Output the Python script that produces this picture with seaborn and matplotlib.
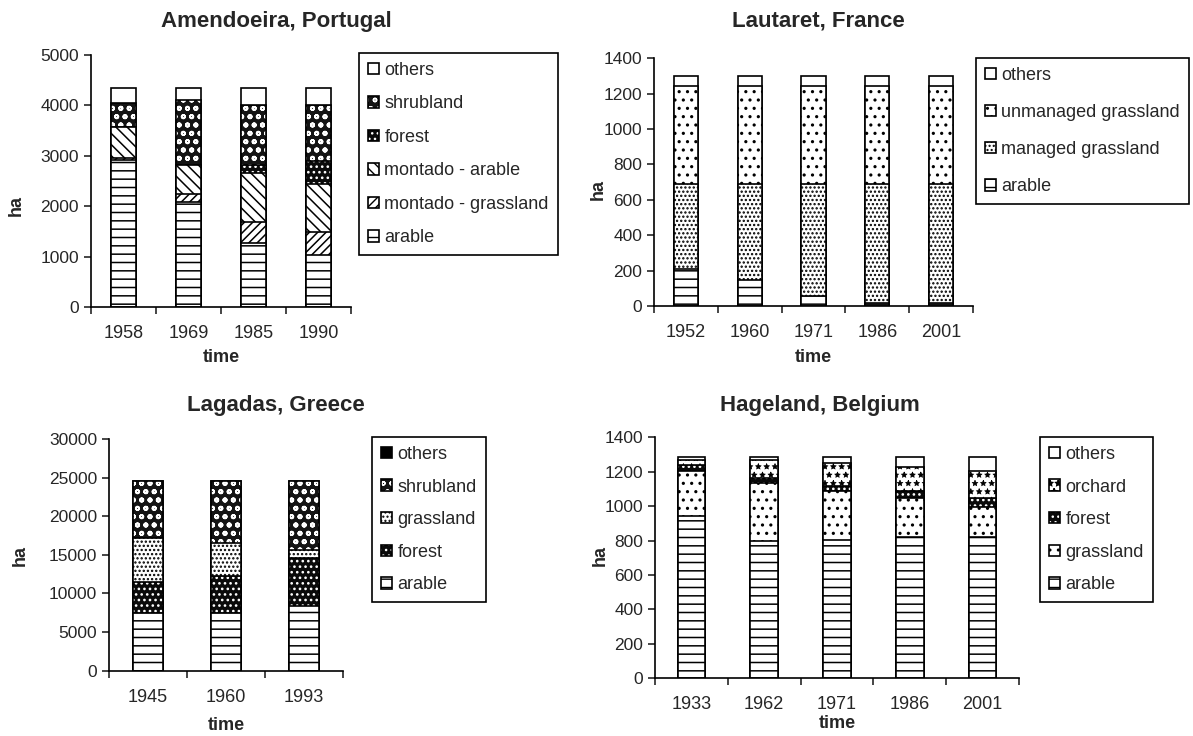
import numpy as np
import matplotlib
matplotlib.use("Agg")
import matplotlib.pyplot as plt
from matplotlib.patches import Rectangle
import seaborn as sns

# ---- land use data (ha) ----
amend_years = ["1958", "1969", "1985", "1990"]
amend_arable = [2920, 2080, 1270, 1030]
amend_montado_grass = [30, 170, 420, 450]
amend_montado_arable = [630, 560, 970, 970]
amend_forest = [0, 0, 150, 450]
amend_shrub = [460, 1300, 1200, 1110]
amend_others = [310, 240, 340, 340]

laut_years = ["1952", "1960", "1971", "1986", "2001"]
laut_arable = [210, 145, 55, 15, 15]
laut_managed = [480, 545, 635, 675, 675]
laut_unmanaged = [555, 555, 555, 555, 555]
laut_others = [55, 55, 55, 55, 55]

laga_years = ["1945", "1960", "1993"]
laga_arable = [7500, 7500, 8350]
laga_forest = [4000, 4750, 6300]
laga_grass = [5650, 4250, 1000]
laga_shrub = [7350, 8000, 8850]
laga_others = [100, 100, 100]

hage_years = ["1933", "1962", "1971", "1986", "2001"]
hage_arable = [940, 795, 805, 820, 820]
hage_grass = [265, 340, 285, 225, 175]
hage_forest = [35, 30, 30, 45, 50]
hage_orchard = [30, 105, 130, 140, 160]
hage_others = [15, 15, 35, 55, 80]

sns.set_theme(style="ticks")
plt.rcParams["font.family"] = ["Liberation Sans", "DejaVu Sans"]

W, H = 1193, 736
fig = plt.figure(figsize=(W / 100, H / 100), dpi=100)

# fill styles: (face colour, hatch, hatch colour, hatch line width)
S_WHITE = ("white", None, "white", 1.1)
S_LINES = ("white", "--", "black", 1.1)
S_BACK = ("white", "\\\\\\", "black", 1.1)
S_FWD = ("white", "////", "black", 1.1)
S_SHRUB = ("#141414", "oo", "white", 1.3)
S_FOREST = ("#0a0a0a", "...", "white", 1.1)
S_DENSE = ("white", "....", "black", 1.1)
S_SPARSE = ("white", "..", "black", 1.1)
S_ORCH = ("white", "**", "black", 0.5)
S_BLACK = ("black", None, "black", 1.1)


def frac(px_left, px_top, px_w, px_h):
    return [px_left / W, 1 - (px_top + px_h) / H, px_w / W, px_h / H]


def panel(rect, years, layers, names, styles, ymax, ystep, title, title_xy,
          legend_xy, spacing, ha_xy, time_y):
    ax = fig.add_axes(frac(*rect))
    cum = np.cumsum(np.array(layers, dtype=float), axis=0)
    # draw cumulative totals from the top layer down so each lower layer covers the one above
    for i in range(len(layers) - 1, -1, -1):
        face, hatch, hcol, hlw = styles[i]
        with plt.rc_context({"hatch.linewidth": hlw}):
            sns.barplot(x=years, y=cum[i], order=years, color=face, saturation=1,
                        edgecolor=hcol, linewidth=0, width=0.38,
                        errorbar=None, hatch=hatch, ax=ax)
        sns.barplot(x=years, y=cum[i], order=years, color="black", fill=False,
                    linewidth=1.2, width=0.38, errorbar=None, ax=ax)
    n = len(years)
    ax.set_xlim(-0.5, n - 0.5)
    ax.set_xticks(np.arange(n + 1) - 0.5, labels=[""] * (n + 1))
    ax.set_xticks(np.arange(n), labels=years, minor=True)
    ax.tick_params(axis="x", which="minor", length=0, labelsize=13, pad=13)
    ax.tick_params(axis="x", which="major", length=5, width=1.2, direction="out")
    ax.set_ylim(0, ymax)
    ax.set_yticks(np.arange(0, ymax + 1, ystep))
    ax.tick_params(axis="y", length=5, width=1.2, direction="out", labelsize=12.5, pad=3.5)
    for side in ("top", "right"):
        ax.spines[side].set_visible(False)
    for side in ("left", "bottom"):
        ax.spines[side].set_linewidth(1.2)
        ax.spines[side].set_color("black")
    ax.set_xlabel("")
    ax.set_ylabel("")
    ax.grid(False)
    fig.text(title_xy[0] / W, 1 - title_xy[1] / H, title, fontsize=16,
             fontweight="bold", ha="center", va="center")
    fig.text(ha_xy[0] / W, 1 - ha_xy[1] / H, "ha", fontsize=13,
             fontweight="bold", rotation=90, ha="center", va="center")
    cx = rect[0] + rect[2] / 2
    fig.text(cx / W, 1 - time_y / H, "time", fontsize=13,
             fontweight="bold", ha="center", va="center")

    handles = []
    for i in range(len(layers) - 1, -1, -1):
        face, hatch, hcol, hlw = styles[i]
        with plt.rc_context({"hatch.linewidth": hlw}):
            fill = Rectangle((0, 0), 1, 1, facecolor=face, edgecolor=hcol,
                             linewidth=0, hatch=hatch)
        edge = Rectangle((0, 0), 1, 1, facecolor="none", edgecolor="black",
                         linewidth=1.2)
        handles.append((fill, edge))
    leg = fig.legend(handles, names[::-1], loc="upper left",
                     bbox_to_anchor=(legend_xy[0] / W, 1 - legend_xy[1] / H),
                     frameon=True, fancybox=False, framealpha=1,
                     edgecolor="black", fontsize=13, handlelength=0.6,
                     handleheight=0.6, handletextpad=0.3, labelspacing=spacing,
                     borderpad=0.5, borderaxespad=0)
    leg.get_frame().set_linewidth(1.2)
    return ax


panel((90.7, 55, 260.3, 252), amend_years,
      [amend_arable, amend_montado_grass, amend_montado_arable, amend_forest,
       amend_shrub, amend_others],
      ["arable", "montado - grassland", "montado - arable", "forest",
       "shrubland", "others"],
      [S_LINES, S_FWD, S_BACK, S_FOREST, S_SHRUB, S_WHITE],
      5000, 1000, "Amendoeira, Portugal", (276, 21), (359, 53), 0.91,
      (16, 205), 358)

panel((654, 58.3, 319, 247.7), laut_years,
      [laut_arable, laut_managed, laut_unmanaged, laut_others],
      ["arable", "managed grassland", "unmanaged grassland", "others"],
      [S_LINES, S_DENSE, S_SPARSE, S_WHITE],
      1400, 200, "Lautaret, France", (818, 21), (976, 58), 1.11,
      (598, 190), 357)

panel((109, 439, 234, 231.7), laga_years,
      [laga_arable, laga_forest, laga_grass, laga_shrub, laga_others],
      ["arable", "forest", "grassland", "shrubland", "others"],
      [S_LINES, S_FOREST, S_DENSE, S_SHRUB, S_BLACK],
      30000, 5000, "Lagadas, Greece", (276, 405), (372, 437), 0.86,
      (20, 555), 725)

panel((655, 437.3, 364, 241), hage_years,
      [hage_arable, hage_grass, hage_forest, hage_orchard, hage_others],
      ["arable", "grassland", "forest", "orchard", "others"],
      [S_LINES, S_SPARSE, S_FOREST, S_ORCH, S_WHITE],
      1400, 200, "Hageland, Belgium", (820, 405), (1040, 437), 0.86,
      (600, 555), 724)

fig.savefig("out.png", dpi=100)
